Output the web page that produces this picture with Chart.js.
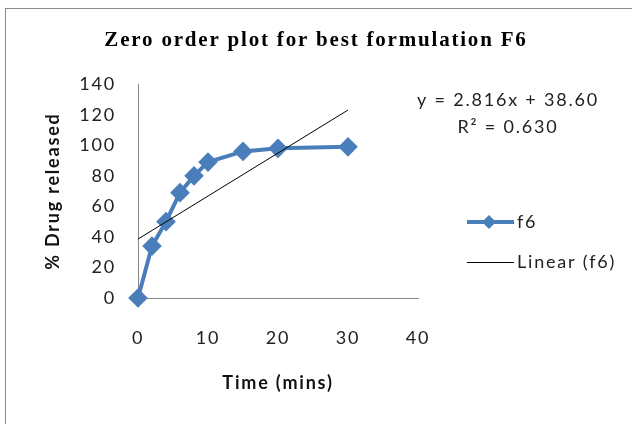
<!DOCTYPE html>
<html>
<head>
<meta charset="utf-8">
<script src="https://cdn.jsdelivr.net/npm/chart.js@4"></script>
<style>
  html, body { margin: 0; padding: 0; background: #fff; }
  #wrap { width: 632px; height: 424px; }
</style>
</head>
<body>
<div id="wrap"><canvas id="chartF6" width="632" height="424"></canvas></div>
<script>
// time points (mins) and % drug released for formulation f6
const times = [0, 2, 4, 6, 8, 10, 15, 20, 30];
const released = [0, 34, 50, 69, 80, 89, 96, 98, 99];

// linear trendline as printed on the chart
const slope = 2.816;
const intercept = 38.60;
const rSquared = '0.630';
const trendX = [0, 30];

const xTicks = [0, 10, 20, 30, 40];
const yTicks = [0, 20, 40, 60, 80, 100, 120, 140];

const blue = '#4a7ebb';
const axisGray = '#868686';
const textFont = 'Lato';
const spacing = '1.8px';

const seriesPoints = times.map((t, i) => ({ x: t, y: released[i] }));
const trendPoints = trendX.map(t => ({ x: t, y: slope * t + intercept }));

// the old excel picture has wide letter spacing on all its text
const spaced = {
  id: 'spaced',
  beforeUpdate(chart) { chart.ctx.letterSpacing = spacing; },
  beforeDraw(chart) { chart.ctx.letterSpacing = spacing; }
};

// frame, equation and legend drawn on top
const extras = {
  id: 'extras',
  afterDraw(chart) {
    const c = chart.ctx;
    c.save();
    c.strokeStyle = '#8c8c8c';
    c.lineWidth = 1;
    c.strokeRect(5.5, 8.5, 700, 500);

    c.fillStyle = '#222';
    c.font = '18px ' + textFont;
    c.textAlign = 'center';
    c.textBaseline = 'middle';
    c.fillText('y = ' + slope.toFixed(3) + 'x + ' + intercept.toFixed(2), 508, 100);
    c.fillText('R² = ' + rSquared, 508, 127);

    // legend
    c.strokeStyle = blue;
    c.lineWidth = 4;
    c.beginPath();
    c.moveTo(467, 222);
    c.lineTo(514, 222);
    c.stroke();
    c.fillStyle = blue;
    c.beginPath();
    c.moveTo(489, 215);
    c.lineTo(496, 222);
    c.lineTo(489, 229);
    c.lineTo(482, 222);
    c.closePath();
    c.fill();

    c.strokeStyle = '#000';
    c.lineWidth = 1;
    c.beginPath();
    c.moveTo(467, 262.5);
    c.lineTo(514, 262.5);
    c.stroke();

    c.fillStyle = '#222';
    c.textAlign = 'left';
    c.fillText('f6', 517, 222);
    c.fillText('Linear (f6)', 517, 262);
    c.restore();
  }
};

new Chart(document.getElementById('chartF6'), {
  type: 'scatter',
  data: {
    datasets: [{
      label: 'f6',
      data: seriesPoints,
      showLine: true,
      clip: false,
      borderColor: blue,
      backgroundColor: blue,
      borderWidth: 4,
      pointStyle: 'rectRot',
      pointRadius: 7,
      pointHoverRadius: 7,
      order: 2
    }, {
      label: 'Linear (f6)',
      data: trendPoints,
      showLine: true,
      borderColor: '#000',
      borderWidth: 1,
      pointRadius: 0,
      order: 1
    }]
  },
  options: {
    responsive: false,
    animation: false,
    events: [],
    layout: { padding: 0 },
    plugins: {
      legend: { display: false },
      tooltip: { enabled: false },
      title: {
        display: true,
        text: 'Zero order plot for best formulation F6',
        color: '#000',
        font: { family: 'Liberation Serif', size: 21, weight: 'bold' },
        padding: { top: 28, bottom: 31 }
      }
    },
    scales: {
      x: {
        type: 'linear',
        min: 0,
        max: 40,
        afterFit(scale) { scale.height = 126; },
        afterBuildTicks(scale) { scale.ticks = xTicks.map(v => ({ value: v })); },
        grid: { display: false, drawTicks: false },
        border: { color: axisGray, width: 1 },
        ticks: { color: '#222', padding: 29, font: { family: textFont, size: 18 } },
        title: {
          display: true,
          text: 'Time (mins)',
          color: '#111',
          font: { family: textFont, size: 18, weight: 'bold' },
          padding: { bottom: 30 }
        }
      },
      y: {
        min: 0,
        max: 140,
        afterFit(scale) { scale.width = 138; },
        afterBuildTicks(scale) { scale.ticks = yTicks.map(v => ({ value: v })); },
        grid: { display: false, drawTicks: false },
        border: { color: axisGray, width: 1 },
        ticks: { color: '#222', padding: 22, font: { family: textFont, size: 18 } },
        title: {
          display: true,
          text: '% Drug released',
          color: '#111',
          font: { family: textFont, size: 18, weight: 'bold' },
          padding: { top: 42 }
        }
      },
      // empty right-hand axis keeps room for the equation and legend
      side: {
        type: 'linear',
        position: 'right',
        afterFit(scale) { scale.width = 214; },
        grid: { display: false, drawTicks: false },
        border: { display: false },
        ticks: { display: false }
      }
    }
  },
  plugins: [spaced, extras]
});
</script>
</body>
</html>
